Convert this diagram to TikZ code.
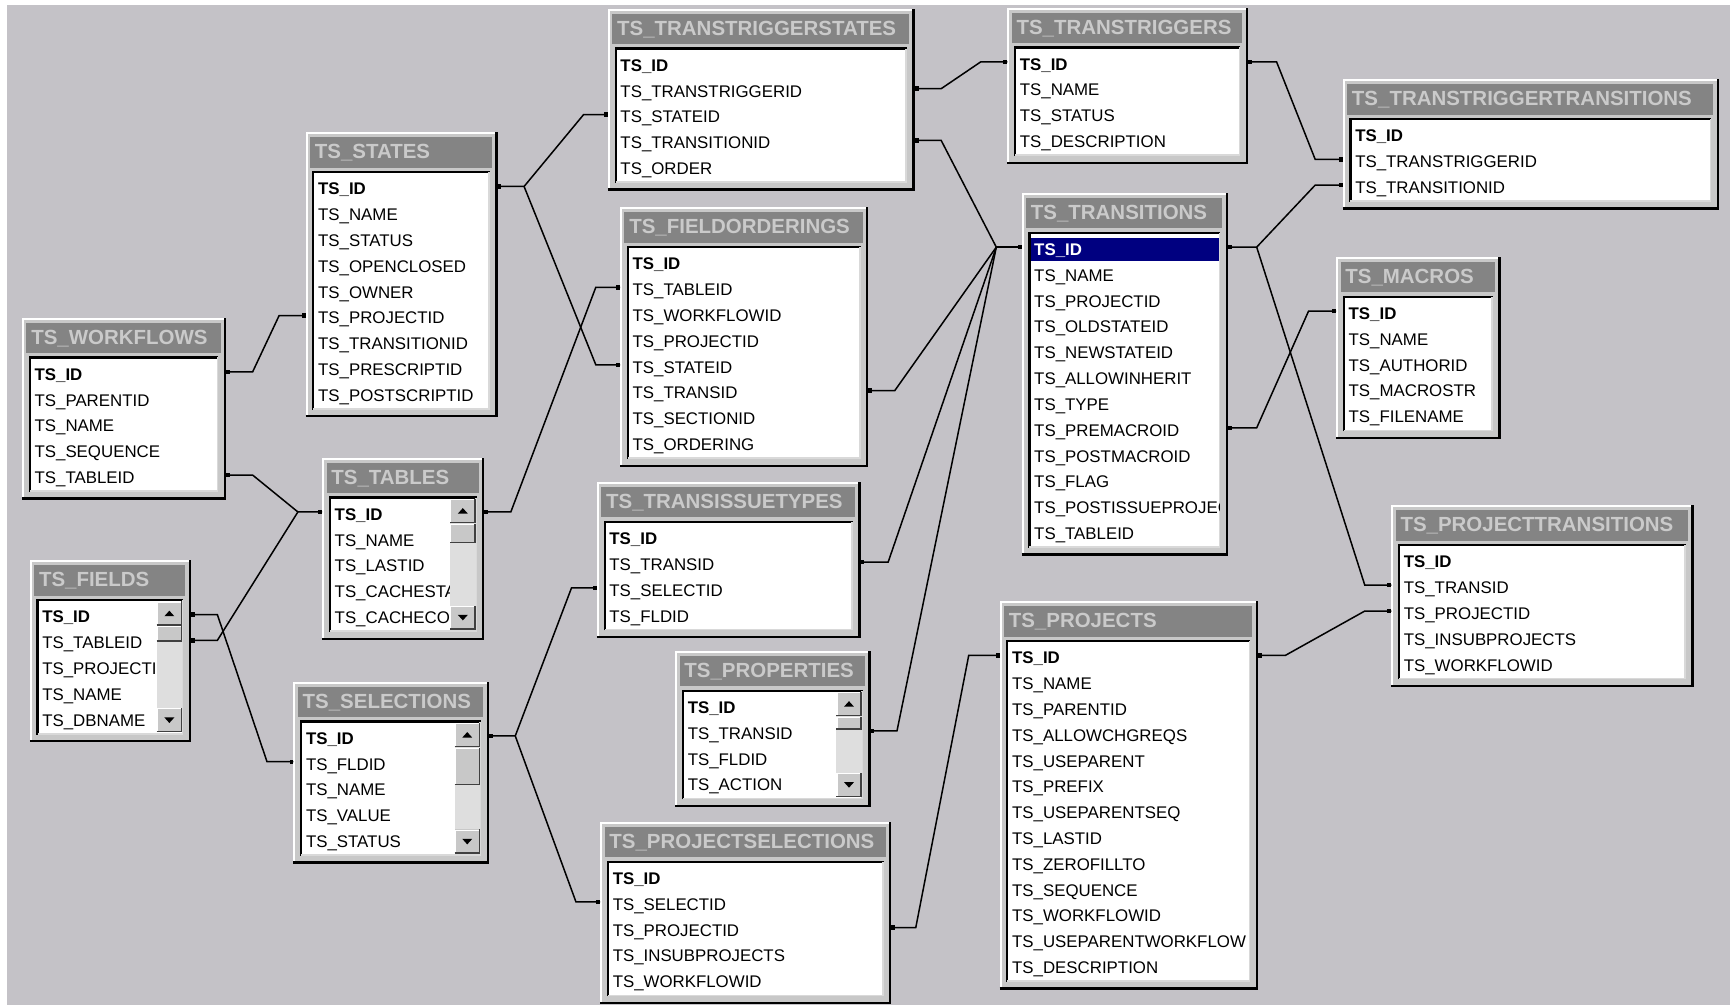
\documentclass[tikz,border=0pt]{standalone}
\usepackage{fontspec}
\setmainfont{Liberation Sans}
\usetikzlibrary{calc}
\definecolor{bg}{RGB}{196,194,199}
\definecolor{face}{RGB}{200,200,200}
\definecolor{hdr}{RGB}{132,132,132}
\definecolor{hdrtxt}{RGB}{202,202,202}
\definecolor{navyhl}{RGB}{0,0,128}
\definecolor{track}{RGB}{222,222,222}
\tikzset{
  titletxt/.style={anchor=west,text=hdrtxt,font=\bfseries\fontsize{10.2}{12}\selectfont,inner sep=0pt},
  rowtxt/.style={anchor=base west,font=\fontsize{8.4}{10}\selectfont,inner sep=0pt},
  conn/.style={line width=0.75pt,black},
}
\newcommand\sbtn[4]{%
  \fill[face] (#1,#2) rectangle (#3,#4);
  \draw[white,line width=0.6pt] (#1+0.6,#4) -- (#1+0.6,#2+0.6) -- (#3,#2+0.6);
  \draw[black!75,line width=0.7pt] (#1,#4-0.6) -- (#3-0.6,#4-0.6) -- (#3-0.6,#2);
}
% #1 id, #2 X, #3 Y, #4 W, #5 rows, #6 title, #7 row texts, #8 thumb height (0: no scrollbar), #9 highlight first row
\newcommand\dbtable[9]{%
  \pgfmathsetmacro\tX{#2}%
  \pgfmathsetmacro\tY{#3}%
  \pgfmathsetmacro\tR{#2+#4}%
  \pgfmathsetmacro\tB{#3+71.2+(#5-1)*23.4}%
  \pgfmathsetmacro\cR{#8>0 ? \tR-31 : \tR-8}%
  \def\hlflag{#9}%
  \fill[face] (\tX,\tY) rectangle (\tR,\tB);
  \draw[white,line width=1pt] (\tX+0.9,\tB) -- (\tX+0.9,\tY+0.9) -- (\tR,\tY+0.9);
  \draw[black,line width=1.1pt] (\tX,\tB-1) -- (\tR-1,\tB-1) -- (\tR-1,\tY);
  \fill[hdr] (\tX+4,\tY+4.5) rectangle (\tR-5,\tY+32);
  \node[titletxt] (#1) at (\tX+8,\tY+18.5) {#6};
  \fill[white] (\tX+6,\tY+35) rectangle (\tR-7,\tB-7);
  \draw[black,line width=1.1pt] (\tX+7,\tB-7) -- (\tX+7,\tY+36) -- (\tR-7,\tY+36);
  \draw[black!15,line width=0.8pt] (\tX+7,\tB-7.7) -- (\tR-7.7,\tB-7.7) -- (\tR-7.7,\tY+36);
  \ifnum#9=1 \fill[navyhl] (\tX+8.5,\tY+40.5) rectangle (\tR-8.5,\tY+62); \fi
  \begin{scope}
    \clip (\tX+8,\tY+37) rectangle (\cR,\tB-9);
    \foreach \rw [count=\i] in {#7} {
      \pgfmathsetmacro\ry{\tY+51+(\i-1)*23.4}
      \ifnum\i=1 \ifnum\hlflag=1 \def\rc{white}\else\def\rc{black}\fi\else\def\rc{black}\fi
      \coordinate (#1-\i-L) at (\tX,\ry-2);
      \coordinate (#1-\i-R) at (\tR,\ry-2);
      \node[rowtxt,text=\rc] (#1-\i) at (\tX+11,\ry+5.6) {\rw};
    }
  \end{scope}
  \ifdim #8pt>0pt
    \pgfmathsetmacro\sa{\tR-31}%
    \pgfmathsetmacro\sb{\tR-8}%
    \pgfmathsetmacro\st{\tY+37}%
    \pgfmathsetmacro\sbot{\tB-9}%
    \fill[track] (\sa,\st) rectangle (\sb,\sbot);
    \sbtn{\sa}{\st}{\sb}{\st+22}
    \sbtn{\sa}{\st+22.5}{\sb}{\st+22.5+#8}
    \sbtn{\sa}{\sbot-22}{\sb}{\sbot}
    \fill ({(\sa+\sb)/2-4.5},\st+13.5) -- ({(\sa+\sb)/2+4.5},\st+13.5) -- ({(\sa+\sb)/2},\st+8.5) -- cycle;
    \fill ({(\sa+\sb)/2-4.5},\sbot-13.5) -- ({(\sa+\sb)/2+4.5},\sbot-13.5) -- ({(\sa+\sb)/2},\sbot-8.5) -- cycle;
  \fi
}
\begin{document}
\begin{tikzpicture}[x=0.55pt,y=-0.55pt]
\useasboundingbox (0,0) rectangle (1568,911);
\fill[white] (0,0) rectangle (1568,911);
\fill[bg] (6.3,4.5) rectangle (1568,911);

\dbtable{TTS}{551}{8}{278}{5}{TS\_TRANSTRIGGERSTATES}{\textbf{TS\_ID},TS\_TRANSTRIGGERID,TS\_STATEID,TS\_TRANSITIONID,TS\_ORDER}{0}{0}
\dbtable{TT}{913}{7}{218}{4}{TS\_TRANSTRIGGERS}{\textbf{TS\_ID},TS\_NAME,TS\_STATUS,TS\_DESCRIPTION}{0}{0}
\dbtable{TTT}{1217}{72}{341}{3}{TS\_TRANSTRIGGERTRANSITIONS}{\textbf{TS\_ID},TS\_TRANSTRIGGERID,TS\_TRANSITIONID}{0}{0}
\dbtable{ST}{277}{120}{174}{9}{TS\_STATES}{\textbf{TS\_ID},TS\_NAME,TS\_STATUS,TS\_OPENCLOSED,TS\_OWNER,TS\_PROJECTID,TS\_TRANSITIONID,TS\_PRESCRIPTID,TS\_POSTSCRIPTID}{0}{0}
\dbtable{FO}{562}{188}{225}{8}{TS\_FIELDORDERINGS}{\textbf{TS\_ID},TS\_TABLEID,TS\_WORKFLOWID,TS\_PROJECTID,TS\_STATEID,TS\_TRANSID,TS\_SECTIONID,TS\_ORDERING}{0}{0}
\dbtable{TR}{926}{175}{187}{12}{TS\_TRANSITIONS}{\textbf{TS\_ID},TS\_NAME,TS\_PROJECTID,TS\_OLDSTATEID,TS\_NEWSTATEID,TS\_ALLOWINHERIT,TS\_TYPE,TS\_PREMACROID,TS\_POSTMACROID,TS\_FLAG,TS\_POSTISSUEPROJEC,TS\_TABLEID}{0}{1}
\dbtable{MA}{1211}{233}{149}{5}{TS\_MACROS}{\textbf{TS\_ID},TS\_NAME,TS\_AUTHORID,TS\_MACROSTR,TS\_FILENAME}{0}{0}
\dbtable{WF}{20}{288}{185}{5}{TS\_WORKFLOWS}{\textbf{TS\_ID},TS\_PARENTID,TS\_NAME,TS\_SEQUENCE,TS\_TABLEID}{0}{0}
\dbtable{TB}{292}{415}{147}{5}{TS\_TABLES}{\textbf{TS\_ID},TS\_NAME,TS\_LASTID,TS\_CACHESTA,TS\_CACHECO}{18}{0}
\dbtable{TIT}{541}{437}{239}{4}{TS\_TRANSISSUETYPES}{\textbf{TS\_ID},TS\_TRANSID,TS\_SELECTID,TS\_FLDID}{0}{0}
\dbtable{FI}{27}{508}{146}{5}{TS\_FIELDS}{\textbf{TS\_ID},TS\_TABLEID,TS\_PROJECTI,TS\_NAME,TS\_DBNAME}{14}{0}
\dbtable{PT}{1261}{458}{274}{5}{TS\_PROJECTTRANSITIONS}{\textbf{TS\_ID},TS\_TRANSID,TS\_PROJECTID,TS\_INSUBPROJECTS,TS\_WORKFLOWID}{0}{0}
\dbtable{PJ}{906}{545}{234}{13}{TS\_PROJECTS}{\textbf{TS\_ID},TS\_NAME,TS\_PARENTID,TS\_ALLOWCHGREQS,TS\_USEPARENT,TS\_PREFIX,TS\_USEPARENTSEQ,TS\_LASTID,TS\_ZEROFILLTO,TS\_SEQUENCE,TS\_WORKFLOWID,TS\_USEPARENTWORKFLOW,TS\_DESCRIPTION}{0}{0}
\dbtable{PR}{612}{590}{177}{4}{TS\_PROPERTIES}{\textbf{TS\_ID},TS\_TRANSID,TS\_FLDID,TS\_ACTION}{12}{0}
\dbtable{SE}{266}{618}{177}{5}{TS\_SELECTIONS}{\textbf{TS\_ID},TS\_FLDID,TS\_NAME,TS\_VALUE,TS\_STATUS}{34}{0}
\dbtable{PS}{544}{745}{264}{5}{TS\_PROJECTSELECTIONS}{\textbf{TS\_ID},TS\_SELECTID,TS\_PROJECTID,TS\_INSUBPROJECTS,TS\_WORKFLOWID}{0}{0}

\begin{scope}[conn]
\draw (WF-1-R) -- ++(24,0) -- ($(ST-6-L)+(-24,0)$) -- (ST-6-L);
\coordinate (J1) at ($(TB-1-L)+(-22,0)$);
\draw (WF-5-R) -- ++(24,0) -- (J1) -- (TB-1-L);
\draw (FI-2-R) -- ++(24,0) -- (J1);
\draw (FI-1-R) -- ++(24,0) -- ($(SE-2-L)+(-24,0)$) -- (SE-2-L);
\coordinate (J2) at ($(ST-1-R)+(24,0)$);
\draw (ST-1-R) -- (J2) -- ($(TTS-3-L)+(-22,0)$) -- (TTS-3-L);
\draw (J2) -- ($(FO-5-L)+(-22,0)$) -- (FO-5-L);
\draw (TB-1-R) -- ++(24,0) -- ($(FO-2-L)+(-22,0)$) -- (FO-2-L);
\draw (TTS-2-R) -- ++(24,0) -- ($(TT-1-L)+(-24,0)$) -- (TT-1-L);
\coordinate (J3) at ($(TR-1-L)+(-23,0)$);
\draw (J3) -- (TR-1-L);
\draw (TTS-4-R) -- ++(24,0) -- (J3);
\draw (FO-6-R) -- ++(24,0) -- (J3);
\draw (TIT-2-R) -- ++(25,0) -- (J3);
\draw (PR-2-R) -- ++(24,0) -- (J3);
\coordinate (J4) at ($(SE-1-R)+(24,0)$);
\draw (SE-1-R) -- (J4) -- ($(TIT-3-L)+(-23,0)$) -- (TIT-3-L);
\draw (J4) -- ($(PS-2-L)+(-22,0)$) -- (PS-2-L);
\draw (PS-3-R) -- ++(22,0) -- ($(PJ-1-L)+(-28,0)$) -- (PJ-1-L);
\draw (PJ-1-R) -- ++(25,0) -- ($(PT-3-L)+(-24,0)$) -- (PT-3-L);
\coordinate (J5) at ($(TR-1-R)+(26,0)$);
\draw (TR-1-R) -- (J5) -- ($(PT-2-L)+(-24,0)$) -- (PT-2-L);
\draw (J5) -- ($(TTT-3-L)+(-25,0)$) -- (TTT-3-L);
\draw (TT-1-R) -- ++(26,0) -- ($(TTT-2-L)+(-25,0)$) -- (TTT-2-L);
\draw (TR-8-R) -- ++(26,0) -- ($(MA-1-L)+(-25,0)$) -- (MA-1-L);
\end{scope}
\foreach \p in {WF-1,WF-5,FI-1,FI-2,ST-1,TB-1,TTS-2,TTS-4,FO-6,TIT-2,PR-2,SE-1,PS-3,PJ-1,TR-1,TT-1,TR-8}
  \fill ($(\p-R)+(0,-2)$) rectangle ++(3.5,4);
\foreach \p in {ST-6,TB-1,SE-2,TTS-3,FO-5,FO-2,TT-1,TR-1,TIT-3,PS-2,PJ-1,PT-3,PT-2,TTT-3,TTT-2,MA-1}
  \fill ($(\p-L)+(0,-2)$) rectangle ++(-3.5,4);
\end{tikzpicture}
\end{document}
